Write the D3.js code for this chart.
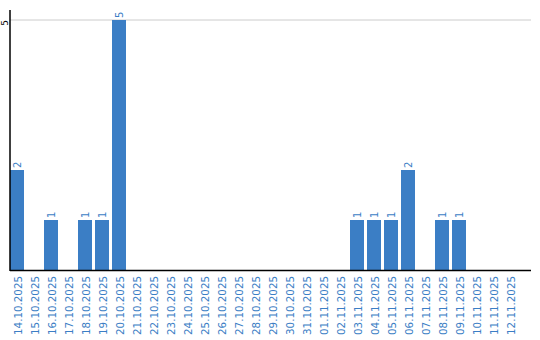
<!DOCTYPE html>
<html>
<head>
<meta charset="utf-8">
<script src="https://cdn.jsdelivr.net/npm/d3@7"></script>
<style>
  body { margin: 0; background: #fff; }
  svg text { font-family: "DejaVu Sans", Verdana, sans-serif; }
</style>
</head>
<body>
<div id="canvas"></div>
<script>
const width = 540;
const height = 340;

// data
const dates = ["14.10.2025", "15.10.2025", "16.10.2025", "17.10.2025", "18.10.2025",
    "19.10.2025", "20.10.2025", "21.10.2025", "22.10.2025", "23.10.2025",
    "24.10.2025", "25.10.2025", "26.10.2025", "27.10.2025", "28.10.2025",
    "29.10.2025", "30.10.2025", "31.10.2025", "01.11.2025", "02.11.2025",
    "03.11.2025", "04.11.2025", "05.11.2025", "06.11.2025", "07.11.2025",
    "08.11.2025", "09.11.2025", "10.11.2025", "11.11.2025", "12.11.2025"];
const counts = [2, 0, 1, 0, 1, 1, 5, 0, 0, 0,
    0, 0, 0, 0, 0, 0, 0, 0, 0, 0,
    1, 1, 1, 2, 0, 1, 1, 0, 0, 0];
const yTicks = [5];

const blue = "#3b7ec5";
const plotLeft = 10, plotRight = 531, plotTop = 20, plotBottom = 270;

const svg = d3.select("#canvas")
    .append("svg")
    .attr("width", width)
    .attr("height", height);

const x = d3.scaleBand()
    .domain(dates)
    .range([plotLeft, 517])
    .paddingInner(3 / 17)
    .paddingOuter(0);

const y = d3.scaleLinear()
    .domain([0, 5])
    .range([plotBottom, plotTop]);

// grid lines
svg.selectAll("line.grid")
    .data(yTicks)
    .enter().append("line")
    .attr("class", "grid")
    .attr("x1", plotLeft).attr("x2", plotRight)
    .attr("y1", d => y(d)).attr("y2", d => y(d))
    .attr("stroke", "#cccccc")
    .attr("stroke-width", 1);

// bars
svg.selectAll("rect.bar")
    .data(dates)
    .enter().append("rect")
    .attr("class", "bar")
    .attr("x", d => x(d))
    .attr("width", x.bandwidth())
    .attr("y", (d, i) => y(counts[i]))
    .attr("height", (d, i) => plotBottom - y(counts[i]))
    .attr("fill", blue);

// value labels above bars (rotated)
svg.selectAll("text.val")
    .data(dates.filter((d, i) => counts[i] > 0))
    .enter().append("text")
    .attr("class", "val")
    .attr("transform", d => `translate(${x(d) + x.bandwidth() / 2 + 3.5}, ${y(counts[dates.indexOf(d)]) - 2}) rotate(-90)`)
    .attr("text-anchor", "start")
    .attr("font-size", 10)
    .attr("fill", blue)
    .text(d => counts[dates.indexOf(d)]);

// x tick labels (rotated)
svg.selectAll("text.xl")
    .data(dates)
    .enter().append("text")
    .attr("class", "xl")
    .attr("transform", d => `translate(${x(d) + x.bandwidth() / 2 + 4.5}, ${plotBottom + 6}) rotate(-90)`)
    .attr("text-anchor", "end")
    .attr("font-size", 10.3)
    .attr("fill", blue)
    .text(d => d);

// y tick labels
svg.selectAll("text.yl")
    .data(yTicks)
    .enter().append("text")
    .attr("class", "yl")
    .attr("transform", d => `translate(7.5, ${y(d) + 3}) rotate(-90)`)
    .attr("text-anchor", "middle")
    .attr("font-size", 9)
    .attr("fill", "#000")
    .text(d => d);

// axes
svg.append("line")
    .attr("x1", plotLeft).attr("x2", plotLeft)
    .attr("y1", 10).attr("y2", plotBottom + 1)
    .attr("stroke", "#000").attr("stroke-width", 1.5);
svg.append("line")
    .attr("x1", plotLeft).attr("x2", plotRight)
    .attr("y1", plotBottom + 0.5).attr("y2", plotBottom + 0.5)
    .attr("stroke", "#000").attr("stroke-width", 1.5);
</script>
</body>
</html>
